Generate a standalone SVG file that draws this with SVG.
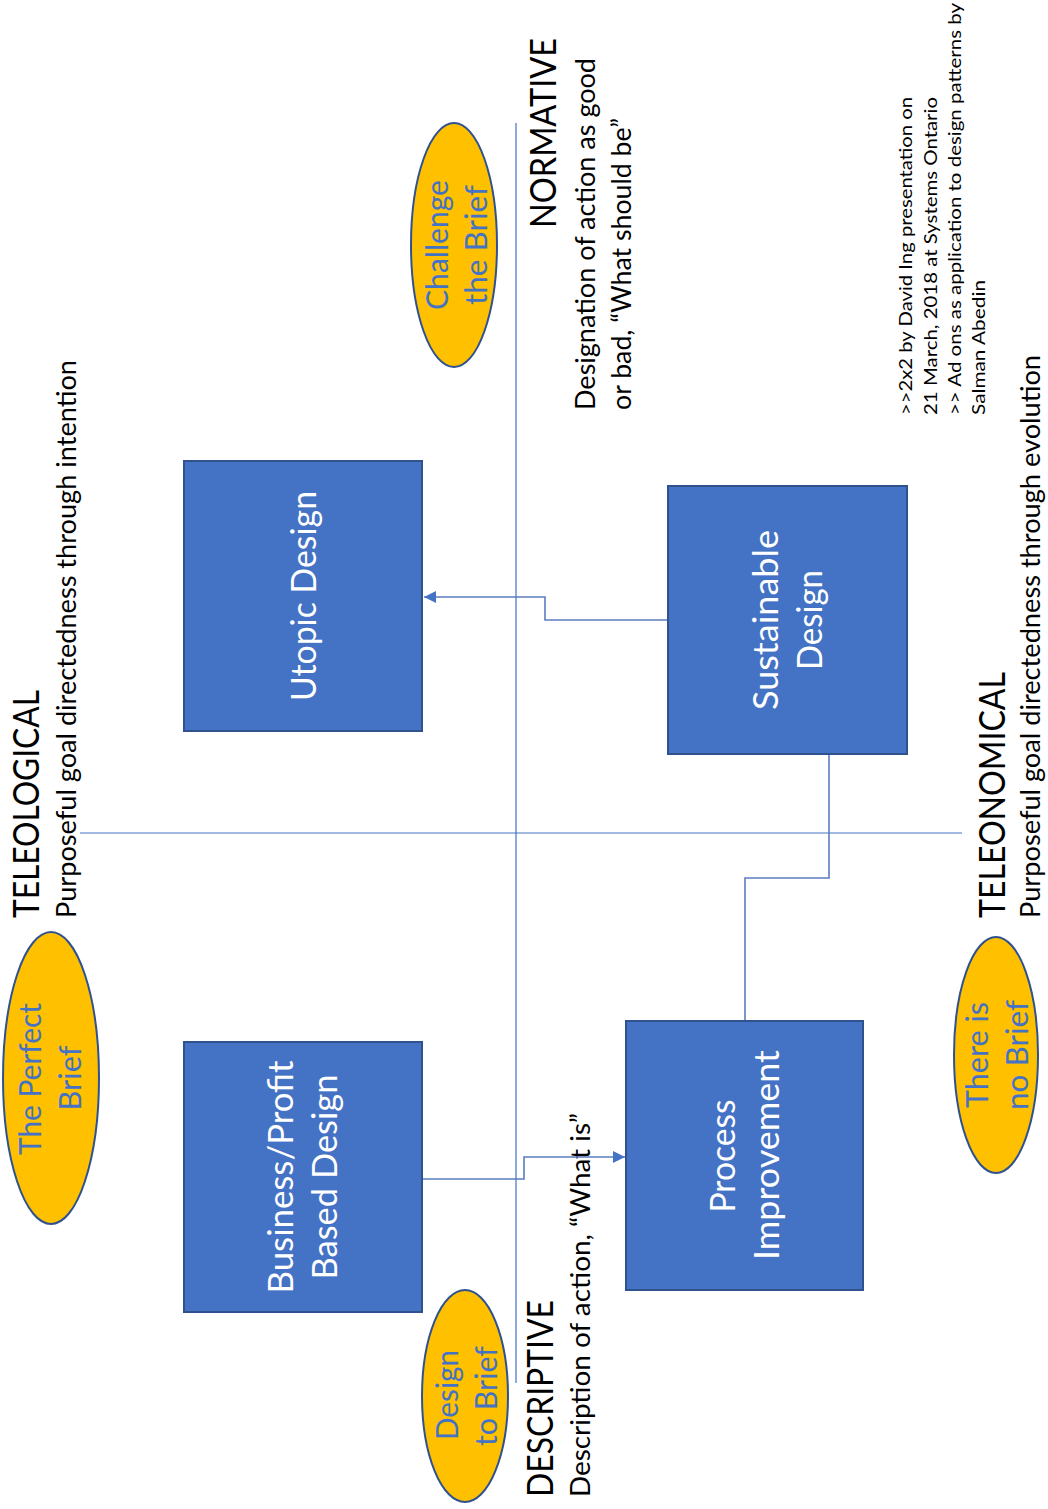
<svg xmlns="http://www.w3.org/2000/svg" width="1048" height="1509" viewBox="0 0 1048 1509">
<style>
text{font-family:Lato,"Open Sans","Liberation Sans",sans-serif}
.box{fill:#4472C4;stroke:#2F528F;stroke-width:2}
.ell{fill:#FFC000;stroke:#2F528F;stroke-width:2}
.bt{fill:#FFFFFF;font-size:34px}
.et{fill:#4472C4;font-size:30px}
.h{fill:#000;font-size:36px}
.s{fill:#000;font-size:27px}
.n{fill:#000;font-size:17px}
.axis{stroke:#4472C4;stroke-width:1.2;fill:none}
.conn{stroke:#5B7DBF;stroke-width:1.6;fill:none}
</style>
<defs>
<marker id="arr" markerWidth="13" markerHeight="12" refX="12" refY="6" orient="auto" markerUnits="userSpaceOnUse">
<path d="M0,0 L12,6 L0,12 Z" fill="#4472C4"/>
</marker>
</defs>
<rect width="1048" height="1509" fill="#FFFFFF"/>
<g id="axes">
<line class="axis" x1="80" y1="833" x2="962" y2="833"/>
<line class="axis" x1="516" y1="123" x2="516" y2="1383"/>
</g>
<g id="labels">
<text class="h" transform="translate(39,918) rotate(-90)" textLength="228" lengthAdjust="spacingAndGlyphs">TELEOLOGICAL</text>
<text class="s" transform="translate(76,918) rotate(-90)" textLength="558" lengthAdjust="spacingAndGlyphs">Purposeful  goal directedness  through intention</text>
<text class="h" transform="translate(556,228) rotate(-90)" textLength="190" lengthAdjust="spacingAndGlyphs">NORMATIVE</text>
<text class="s" transform="translate(595,410) rotate(-90)" textLength="352" lengthAdjust="spacingAndGlyphs">Designation of action as good</text>
<text class="s" transform="translate(631,410) rotate(-90)" textLength="292" lengthAdjust="spacingAndGlyphs">or bad, “What should be”</text>
<text class="h" transform="translate(553,1497) rotate(-90)" textLength="197" lengthAdjust="spacingAndGlyphs">DESCRIPTIVE</text>
<text class="s" transform="translate(590,1497) rotate(-90)" textLength="384" lengthAdjust="spacingAndGlyphs">Description of action,  “What is”</text>
<text class="h" transform="translate(1005,918) rotate(-90)" textLength="246" lengthAdjust="spacingAndGlyphs">TELEONOMICAL</text>
<text class="s" transform="translate(1040,918) rotate(-90)" textLength="563" lengthAdjust="spacingAndGlyphs">Purposeful  goal directedness  through evolution</text>
<text class="n" transform="translate(912,415) rotate(-90)" textLength="318" lengthAdjust="spacingAndGlyphs">&gt;&gt;2x2 by David Ing presentation on</text>
<text class="n" transform="translate(937,415) rotate(-90)" textLength="318" lengthAdjust="spacingAndGlyphs">21 March, 2018 at Systems Ontario</text>
<text class="n" transform="translate(961,415) rotate(-90)" textLength="412" lengthAdjust="spacingAndGlyphs">&gt;&gt; Ad ons as application to design patterns by</text>
<text class="n" transform="translate(985,415) rotate(-90)" textLength="135" lengthAdjust="spacingAndGlyphs">Salman Abedin</text>
</g>
<g id="connectors">
<polyline class="conn" points="668,620 545,620 545,597 424,597" marker-end="url(#arr)"/>
<polyline class="conn" points="422,1179 524,1179 524,1157 625,1157" marker-end="url(#arr)"/>
<polyline class="conn" points="745,1021 745,878 829,878 829,754"/>
</g>
<g id="utopic">
<rect class="box" x="184" y="461" width="238" height="270"/>
<text class="bt" transform="translate(316,596) rotate(-90)" text-anchor="middle" textLength="210" lengthAdjust="spacingAndGlyphs">Utopic Design</text>
</g>
<g id="sustainable">
<rect class="box" x="668" y="486" width="239" height="268"/>
<text class="bt" transform="translate(778,620) rotate(-90)" text-anchor="middle" textLength="180" lengthAdjust="spacingAndGlyphs">Sustainable</text>
<text class="bt" transform="translate(822,620) rotate(-90)" text-anchor="middle" textLength="100" lengthAdjust="spacingAndGlyphs">Design</text>
</g>
<g id="business">
<rect class="box" x="184" y="1042" width="238" height="270"/>
<text class="bt" transform="translate(293,1177) rotate(-90)" text-anchor="middle" textLength="233" lengthAdjust="spacingAndGlyphs">Business/Profit</text>
<text class="bt" transform="translate(337,1177) rotate(-90)" text-anchor="middle" textLength="205" lengthAdjust="spacingAndGlyphs">Based Design</text>
</g>
<g id="process">
<rect class="box" x="626" y="1021" width="237" height="269"/>
<text class="bt" transform="translate(735,1156) rotate(-90)" text-anchor="middle" textLength="113" lengthAdjust="spacingAndGlyphs">Process</text>
<text class="bt" transform="translate(779,1155) rotate(-90)" text-anchor="middle" textLength="210" lengthAdjust="spacingAndGlyphs">Improvement</text>
</g>
<g id="challenge">
<ellipse class="ell" cx="454" cy="245" rx="43" ry="122"/>
<text class="et" transform="translate(448,245) rotate(-90)" text-anchor="middle" textLength="130" lengthAdjust="spacingAndGlyphs">Challenge</text>
<text class="et" transform="translate(487,245) rotate(-90)" text-anchor="middle" textLength="120" lengthAdjust="spacingAndGlyphs">the Brief</text>
</g>
<g id="perfect">
<ellipse class="ell" cx="51" cy="1078" rx="48" ry="146"/>
<text class="et" transform="translate(41,1079) rotate(-90)" text-anchor="middle" textLength="152" lengthAdjust="spacingAndGlyphs">The Perfect</text>
<text class="et" transform="translate(81,1078) rotate(-90)" text-anchor="middle" textLength="65" lengthAdjust="spacingAndGlyphs">Brief</text>
</g>
<g id="designtobrief">
<ellipse class="ell" cx="465" cy="1396" rx="43" ry="106"/>
<text class="et" transform="translate(458,1395) rotate(-90)" text-anchor="middle" textLength="90" lengthAdjust="spacingAndGlyphs">Design</text>
<text class="et" transform="translate(497,1396) rotate(-90)" text-anchor="middle" textLength="100" lengthAdjust="spacingAndGlyphs">to Brief</text>
</g>
<g id="nobrief">
<ellipse class="ell" cx="996" cy="1055" rx="42" ry="118"/>
<text class="et" transform="translate(988,1055) rotate(-90)" text-anchor="middle" textLength="106" lengthAdjust="spacingAndGlyphs">There is</text>
<text class="et" transform="translate(1028,1055) rotate(-90)" text-anchor="middle" textLength="110" lengthAdjust="spacingAndGlyphs">no Brief</text>
</g>
</svg>
